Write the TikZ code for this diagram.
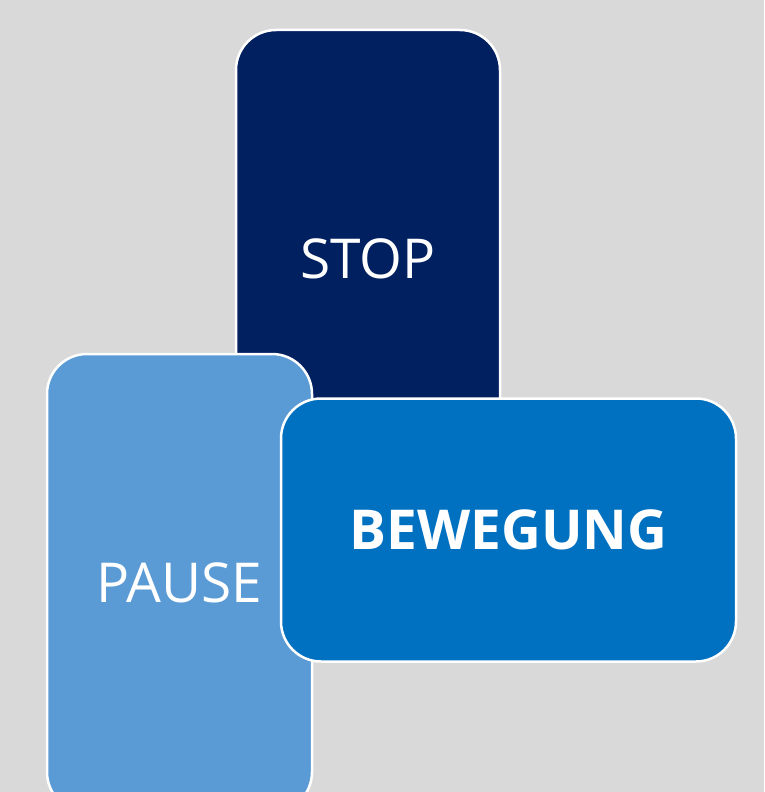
\documentclass[tikz,border=0pt]{standalone}
\usepackage{fontspec}
\setmainfont{Open Sans}
\definecolor{bg}{HTML}{D9D9D9}
\definecolor{stopc}{HTML}{002060}
\definecolor{pausec}{HTML}{5B9BD5}
\definecolor{bewc}{HTML}{0070C0}
\tikzset{
  card/.style={draw=white, line width=2.5pt, rounded corners=40pt, inner sep=0pt, outer sep=0pt,
    text=white, font=\fontsize{55}{66}\selectfont},
}
\begin{document}
\begin{tikzpicture}[x=1pt,y=-1pt]
\fill[bg] (0,0) rectangle (764,792);
\useasboundingbox (0,0) rectangle (764,792);
\node[card, fill=stopc, minimum width=264pt, minimum height=458pt] (stop) at (368,259) {STOP};
\node[card, fill=pausec, minimum width=265pt, minimum height=458pt] (pause) at (179.5,583) {PAUSE};
\node[card, fill=bewc, minimum width=455pt, minimum height=263pt, font=\fontsize{55}{66}\selectfont\bfseries] (bew) at (508.5,530) {BEWEGUNG};
\end{tikzpicture}
\end{document}
